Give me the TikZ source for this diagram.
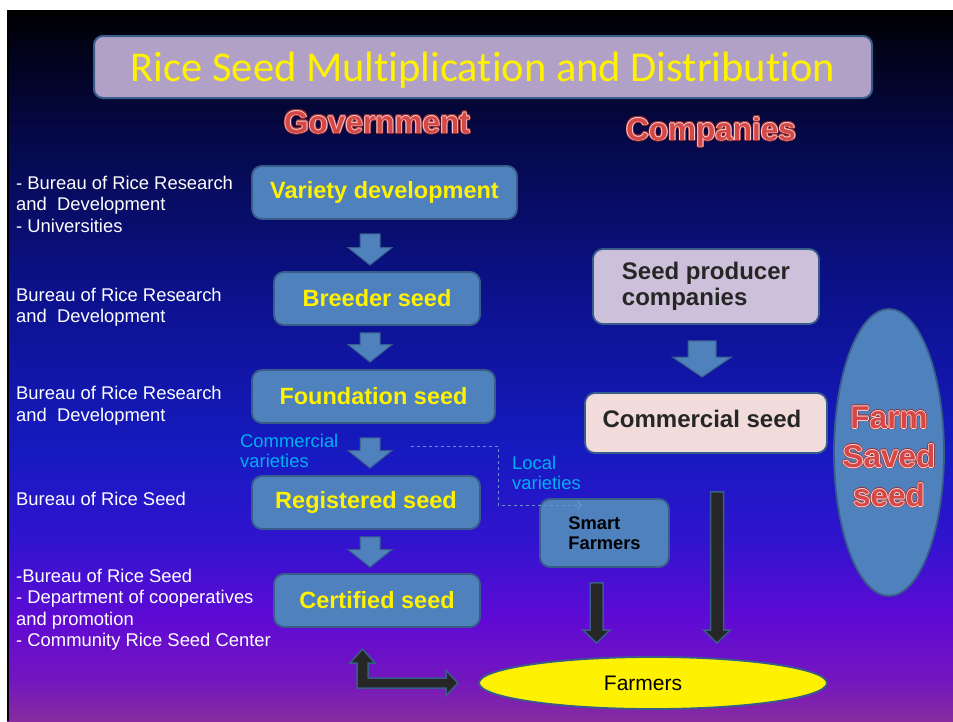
\documentclass[tikz,border=0pt]{standalone}
\usepackage{fontspec}
\setmainfont{Liberation Sans}
\newfontfamily\titlefont[Ligatures=NoCommon]{Carlito}
\usetikzlibrary{shapes.geometric,calc,arrows.meta}

\definecolor{boxblue}{RGB}{79,129,189}
\definecolor{boxedge}{RGB}{56,93,138}
\definecolor{titlefill}{RGB}{178,161,199}
\definecolor{lilac}{RGB}{204,192,218}
\definecolor{blush}{RGB}{242,220,219}
\definecolor{inkgrey}{RGB}{38,38,38}
\definecolor{skyblue}{RGB}{0,176,240}
\definecolor{dashblue}{RGB}{110,145,205}
\definecolor{artfill}{RGB}{212,72,72}
\definecolor{artrim}{RGB}{255,212,212}
\definecolor{artedge}{RGB}{150,45,45}
% slide background, top to bottom
\definecolor{bgA}{RGB}{0,0,0}
\definecolor{bgB}{RGB}{2,3,32}
\definecolor{bgC}{RGB}{6,10,82}
\definecolor{bgD}{RGB}{12,18,142}
\definecolor{bgE}{RGB}{22,26,192}
\definecolor{bgF}{RGB}{48,20,206}
\definecolor{bgG}{RGB}{96,10,212}
\definecolor{bgH}{RGB}{116,22,190}
\definecolor{bgI}{RGB}{134,44,160}
\pgfdeclareverticalshading{slidebg}{100bp}{color(0bp)=(bgI); color(25bp)=(bgI);
  color(27.88bp)=(bgH); color(32.10bp)=(bgG); color(37.73bp)=(bgF);
  color(44.06bp)=(bgE); color(54.61bp)=(bgD); color(64.45bp)=(bgC);
  color(71.48bp)=(bgB); color(75bp)=(bgA); color(100bp)=(bgA)}

% outlined red lettering
\newcommand\artword[1]{{%
  \setbox0\hbox{\color{artedge}#1}\setbox2\hbox{\color{artrim}#1}%
  \rlap{\kern-1.5pt\copy0}\rlap{\kern1.5pt\copy0}%
  \rlap{\raise1.5pt\copy0}\rlap{\lower1.5pt\copy0}%
  \rlap{\kern-1.1pt\raise1.1pt\copy0}\rlap{\kern1.1pt\raise1.1pt\copy0}%
  \rlap{\kern-1.1pt\lower1.1pt\copy0}\rlap{\kern1.1pt\lower1.1pt\copy0}%
  \rlap{\kern-0.9pt\copy2}\rlap{\kern0.9pt\copy2}%
  \rlap{\raise0.9pt\copy2}\rlap{\lower0.9pt\copy2}%
  \color{artfill}#1}}

% block arrow pointing down: top, tip, half shaft, half head, head length
\newcommand\blockdown[6][]{%
  \draw[#1] ($(#2)+(-#4,0)$) -- ($(#2)+(#4,0)$) -- ($(#3)+(#4,-#6)$)
    -- ($(#3)+(#5,-#6)$) -- (#3) -- ($(#3)+(-#5,-#6)$)
    -- ($(#3)+(-#4,-#6)$) -- cycle;}

\begin{document}
\begin{tikzpicture}[x=1pt,y=-1pt,
  stage/.style={draw=boxedge,line width=1.8pt,fill=boxblue,rounded corners=10pt,
    minimum height=53pt,inner sep=0pt,text=yellow,
    font=\fontsize{23.5}{26}\selectfont\bfseries},
  sidetext/.style={anchor=west,align=left,text=white,inner sep=0pt,
    font=\fontsize{18.4}{21.5}\selectfont},
  notetext/.style={anchor=west,align=left,text=skyblue,inner sep=0pt,
    font=\fontsize{18.4}{20}\selectfont},
  heading/.style={anchor=base,inner sep=0pt,font=\fontsize{31.5}{38}\selectfont\bfseries},
  firmbox/.style={draw=boxedge,line width=1.8pt,rounded corners=10pt,inner sep=0pt,
    text=inkgrey,font=\fontsize{24}{26}\selectfont\bfseries},
  bluearrow/.style={draw=boxedge,line width=1pt,fill=boxblue},
  darkarrow/.style={draw=boxedge,line width=1.5pt,fill=inkgrey},
  dashline/.style={draw=dashblue,line width=0.9pt,dashed,-{To[length=5pt]}}]

  \useasboundingbox (0,0) rectangle (953,721);
  \fill[white] (0,0) rectangle (953,721);
  \shade[shading=slidebg] (7,10) rectangle (953,721);
  \draw[line width=2pt] (8,10) -- (8,721);

  \node[draw=boxedge,line width=2pt,fill=titlefill,rounded corners=9pt,
    minimum width=778pt,minimum height=62pt,inner sep=0pt,text depth=0pt,
    text=yellow,font=\titlefont\fontsize{42.5}{48}\selectfont] (title) at (483,67)
    {Rice Seed Multiplication and Distribution};
  \node[heading] (gov) at (377,133) {\artword{Government}};
  \node[heading] (comp) at (711,140) {\artword{Companies}};

  % government chain
  \node[stage,minimum width=265pt] (vd) at (384.5,192.5) {Variety development};
  \node[stage,minimum width=206pt] (bs) at (377,298.5) {Breeder seed};
  \node[stage,minimum width=243pt] (fs) at (373.5,396.5) {Foundation seed};
  \node[stage,minimum width=228pt] (rs) at (366,502.5) {Registered seed};
  \node[stage,minimum width=206pt] (cert) at (377,600.5) {Certified seed};

  \node[sidetext] (who1) at (16,204) {- Bureau of Rice Research\\and\ \ Development\\- Universities};
  \node[sidetext] (who2) at (16,307) {Bureau of Rice Research\\and\ \ Development};
  \node[sidetext] (who3) at (16,405.5) {Bureau of Rice Research\\and\ \ Development};
  \node[sidetext] (who4) at (16,499) {Bureau of Rice Seed};
  \node[sidetext] (who5) at (16,609.5) {-Bureau of Rice Seed\\- Department of cooperatives\\and promotion\\- Community Rice Seed Center};

  \node[notetext] (cv) at (240,451) {Commercial\\varieties};
  \node[notetext] (lv) at (512,473) {Local\\varieties};

  % companies side
  \node[firmbox,fill=lilac,minimum width=226pt,minimum height=75pt,align=left]
    (sp) at (706,286.5) {Seed producer\\companies};
  \node[firmbox,fill=blush,minimum width=242pt,minimum height=60pt,
    label={[inner sep=0pt,text=inkgrey,font=\fontsize{24}{26}\selectfont\bfseries,
      xshift=-4pt,yshift=4pt]center:Commercial seed}] (cm) at (706,423) {};
  \node[stage,minimum width=129pt,minimum height=68pt,align=left,text=black,
    font=\fontsize{18.3}{20}\selectfont\bfseries] (sf) at (604.5,533) {Smart\\Farmers};
  \node[ellipse,draw=boxedge,line width=1.8pt,fill=yellow,minimum width=348pt,
    minimum height=52pt,inner sep=0pt,
    label={[inner sep=0pt,font=\fontsize{21}{24}\selectfont,xshift=-10pt]center:Farmers}]
    (fm) at (653,683) {};
  \node[ellipse,draw=boxedge,line width=1.8pt,fill=boxblue,minimum width=110pt,
    minimum height=287pt,inner sep=0pt] (fss) at (889,452.5) {};
  \node[align=center,inner sep=0pt,font=\fontsize{31.5}{39}\selectfont\bfseries]
    (fsslabel) at ($(fss.center)+(0,4)$) {\artword{Farm}\\\artword{Saved}\\\artword{seed}};

  % arrows
  \coordinate (ax) at (370,0);
  \foreach \u/\v/\gt/\gb in {vd/bs/14/6,bs/fs/7/7,fs/rs/14/7,rs/cert/7/6}{
    \coordinate (top) at ($(\u.south -| ax)+(0,\gt)$);
    \coordinate (tip) at ($(\v.north -| ax)+(0,-\gb)$);
    \blockdown[bluearrow]{top}{tip}{10}{22}{17.5}
  }
  \coordinate (sptop) at ($(sp.south)+(-4,16)$);
  \coordinate (sptip) at ($(cm.north)+(-4,-15)$);
  \blockdown[bluearrow]{sptop}{sptip}{14}{29.5}{20}

  \coordinate (sftop) at ($(sf.south)+(-8,15)$);
  \coordinate (sftip) at ($(fm.center)+(-56.5,-40)$);
  \blockdown[darkarrow]{sftop}{sftip}{6.5}{13.5}{13}
  \coordinate (cmtop) at ($(cm.south)+(11,38)$);
  \coordinate (cmtip) at ($(fm.center)+(64,-40)$);
  \blockdown[darkarrow]{cmtop}{cmtip}{6.5}{13.5}{13}

  \coordinate (lk) at ($(cert.south |- fm.west)+(-14.5,0)$);
  \draw[darkarrow] ($(lk)+(0,-34)$) -- ++(12.5,14) -- ++(-7,0) -- ++(0,15)
    -- ++(78,0) -- ++(0,-7.5) -- ++(12,12.5) -- ++(-12,12.5) -- ++(0,-7.5)
    -- ++(-89,0) -- ++(0,-25) -- ++(-7,0) -- cycle;

  \coordinate (dv) at (411,446);
  \draw[dashline] (dv) -- ++(87,0) |- ($(sf.north west)+(43,7)$);
\end{tikzpicture}
\end{document}
